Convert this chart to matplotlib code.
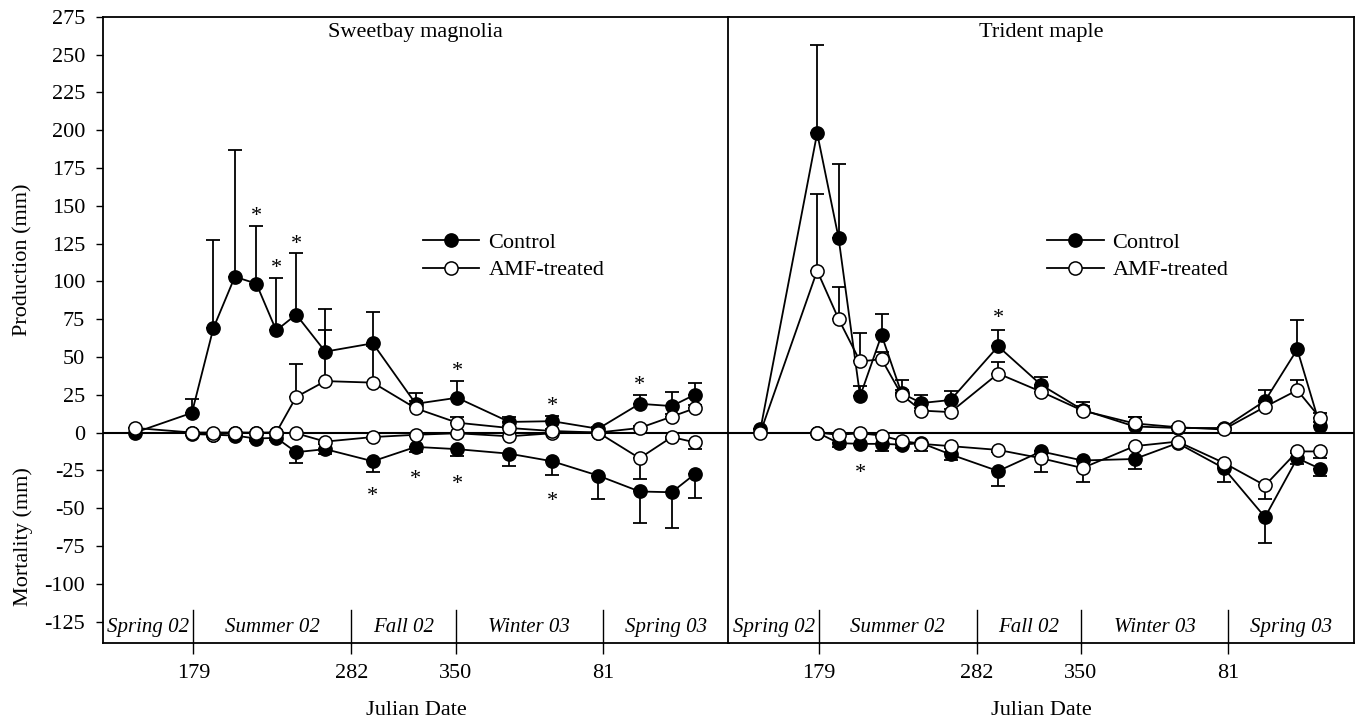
import matplotlib
matplotlib.use("Agg")
import matplotlib.pyplot as plt

plt.rcParams['font.family'] = ['Liberation Serif', 'DejaVu Serif']

# ---------------- data ----------------
dates = [141, 178, 192, 206, 220, 233, 246, 265, 296, 324, 351, 385, 413, 443, 470, 491, 506]
mort_dates = dates[1:]

tick_pos = [179, 282, 350, 446]
tick_labels = ['179', '282', '350', '81']
season_bounds = [179, 282, 350, 446]
season_names = ['Spring 02', 'Summer 02', 'Fall 02', 'Winter 03', 'Spring 03']

# Sweetbay magnolia
sb_ctrl_prod = [0, 13, 69, 103, 98.5, 67.5, 78, 53.5, 59, 19, 23, 7, 7.5, 2.5, 19, 17.5, 25]
sb_ctrl_prod_se = [0, 9, 58, 84, 38, 35, 41, 28.5, 20.5, 7, 11, 3, 3.5, 1, 6, 9, 8]
sb_amf_prod = [3, 0, 0, 0, 0, 0, 23.5, 34, 33, 16, 6.5, 3, 1, 0, 3, 10.5, 16]
sb_amf_prod_se = [0, 0, 0, 0, 0, 0, 22, 33.5, 24, 5, 3.5, 1, 1, 0, 1, 2, 2]
sb_ctrl_mort = [-1, -1.5, -2, -4, -3.5, -13, -11, -19, -9.5, -11, -14, -19, -28.5, -39, -39.5, -27.5]
sb_ctrl_mort_se = [0, 0.5, 1, 1.5, 1.5, 7, 3.5, 7, 3.5, 4.5, 8, 9, 15.5, 21, 23.5, 16]
sb_amf_mort = [0, -1.5, 0, -0.5, 0, -0.5, -6, -3, -1.5, -0.5, -2.5, -0.5, 0, -17, -3, -6.5]
sb_amf_mort_se = [0, 0, 0, 0, 0, 0, 1.5, 1.5, 0.5, 0.5, 0.5, 0.5, 0, 14, 1, 4.5]
sb_stars_x = [220, 233, 246, 351, 413, 470, 296, 324, 351, 413]
sb_stars_y = [147.5, 113, 129, 44.7, 21.6, 35.3, -38, -26.8, -30.2, -41.2]

# Trident maple
tm_ctrl_prod = [2, 198, 128.5, 24, 64.5, 26, 19.5, 21.5, 57, 31.5, 15, 4, 3, 3, 21, 55, 4]
tm_ctrl_prod_se = [0, 58, 49, 7, 14, 9, 5, 6, 11, 5.5, 5, 6, 0.5, 0.5, 7, 19.5, 3]
tm_amf_prod = [0, 107, 75, 47, 48.5, 25, 14.5, 13.5, 39, 27, 14.5, 6, 3.5, 2, 17, 28, 9.5]
tm_amf_prod_se = [0, 50.5, 21, 19, 5, 3, 2, 2, 7.5, 3, 3, 4, 0.5, 0.5, 3, 6.5, 3.5]
tm_ctrl_mort = [0, -7, -7.5, -7.5, -8, -7, -14.5, -25.5, -12.5, -18.5, -17.5, -7, -23.5, -56, -17, -24]
tm_ctrl_mort_se = [0, 2.5, 1, 4.5, 2, 5, 4, 10, 2, 5, 6.5, 1.5, 9, 17, 4, 5]
tm_amf_mort = [0, -1.5, -0.5, -2, -5.5, -7.5, -9, -11.5, -17, -23.5, -9, -6, -20, -35, -12.5, -12.5]
tm_amf_mort_se = [0, 0, 0, 0, 1, 1, 1, 1.5, 9, 9.5, 1, 1, 2, 9, 1, 4.5]
tm_stars_x = [296, 206]
tm_stars_y = [80, -22.5]

# ---------------- figure ----------------
W, H = 1356, 726
fig = plt.figure(figsize=(W / 100, H / 100), dpi=100)
left_px, right_mid, right_px = 103.3, 728.5, 1354
top_px, bot_px = 16.7, 642.7
b = 1 - bot_px / H
h = (bot_px - top_px) / H
ax1 = fig.add_axes([left_px / W, b, (right_mid - left_px) / W, h])
ax2 = fig.add_axes([right_mid / W, b, (right_px - right_mid) / W, h])

FS = 16
LW = 1.3
MS = 9.5
XLIM = (120.2, 528)
YLIM = (-139, 275)


def draw(ax, cp, cps, ap, aps, cm, cms, am, ams, sx, sy, title, legx):
    ax.set_xlim(*XLIM)
    ax.set_ylim(*YLIM)
    # error bars (one sided)
    ax.errorbar(dates, cp, yerr=[[0] * len(cps), cps], fmt='none', ecolor='black',
                elinewidth=LW, capsize=5, capthick=LW, zorder=2)
    ax.errorbar(dates, ap, yerr=[[0] * len(aps), aps], fmt='none', ecolor='black',
                elinewidth=LW, capsize=5, capthick=LW, zorder=2)
    ax.errorbar(mort_dates, cm, yerr=[cms, [0] * len(cms)], fmt='none', ecolor='black',
                elinewidth=LW, capsize=5, capthick=LW, zorder=2)
    ax.errorbar(mort_dates, am, yerr=[ams, [0] * len(ams)], fmt='none', ecolor='black',
                elinewidth=LW, capsize=5, capthick=LW, zorder=2)
    ax.plot(mort_dates, cm, '-o', color='black', mfc='black', mec='black', ms=MS,
            lw=LW, mew=1.1, zorder=3)
    ax.plot(mort_dates, am, '-o', color='black', mfc='white', mec='black', ms=MS,
            lw=LW, mew=1.1, zorder=3)
    l1, = ax.plot(dates, cp, '-o', color='black', mfc='black', mec='black', ms=MS,
                  lw=LW, mew=1.1, zorder=4, label='Control')
    l2, = ax.plot(dates, ap, '-o', color='black', mfc='white', mec='black', ms=MS,
                  lw=LW, mew=1.1, zorder=4, label='AMF-treated')
    ax.axhline(0, color='black', lw=1.5, zorder=1)
    for x, y in zip(sx, sy):
        ax.annotate('*', xy=(x, y), xytext=(0, -8), textcoords='offset points',
                    ha='center', va='baseline', fontsize=FS)
    # seasons
    xt = ax.get_xaxis_transform()
    for s in season_bounds:
        ax.plot([s, s], [0, 0.052], transform=xt, color='black', lw=1.0, clip_on=False)
    edges = [XLIM[0]] + season_bounds + [XLIM[1]]
    for i, name in enumerate(season_names):
        ax.text((edges[i] + edges[i + 1]) / 2, -129, name, ha='center', va='center',
                fontsize=15, style='italic')
    ax.set_xticks(tick_pos)
    ax.set_xticklabels(tick_labels)
    ax.tick_params(axis='x', direction='out', length=7.6, width=1.0, pad=8, labelsize=FS)
    ax.set_xlabel('Julian Date', fontsize=FS, labelpad=13)
    ax.text(0.5, 0.975, title, transform=ax.transAxes, ha='center', va='center', fontsize=FS)
    for sp in ax.spines.values():
        sp.set_linewidth(1.3)
    ax.legend(handles=[l1, l2], loc='upper left', bbox_to_anchor=(legx, 0.655),
              frameon=False, fontsize=FS, handlelength=2.55, handletextpad=0.4,
              labelspacing=0.3, borderpad=0, borderaxespad=0)


draw(ax1, sb_ctrl_prod, sb_ctrl_prod_se, sb_amf_prod, sb_amf_prod_se,
     sb_ctrl_mort, sb_ctrl_mort_se, sb_amf_mort, sb_amf_mort_se,
     sb_stars_x, sb_stars_y, 'Sweetbay magnolia', 0.511)
draw(ax2, tm_ctrl_prod, tm_ctrl_prod_se, tm_amf_prod, tm_amf_prod_se,
     tm_ctrl_mort, tm_ctrl_mort_se, tm_amf_mort, tm_amf_mort_se,
     tm_stars_x, tm_stars_y, 'Trident maple', 0.509)

yt = list(range(-125, 276, 25))
ax1.set_yticks(yt)
ax1.set_yticklabels([str(v) for v in yt])
ax1.tick_params(axis='y', direction='out', length=5, width=1.0, pad=8, labelsize=FS)
ax2.set_yticks(yt)
ax2.tick_params(axis='y', left=False, labelleft=False)

fig.text(23 / W, 1 - 260 / H, 'Production (mm)', rotation=90, ha='center', va='center', fontsize=FS)
fig.text(23 / W, 1 - 537 / H, 'Mortality (mm)', rotation=90, ha='center', va='center', fontsize=FS)

fig.savefig('out.png', dpi=100)
